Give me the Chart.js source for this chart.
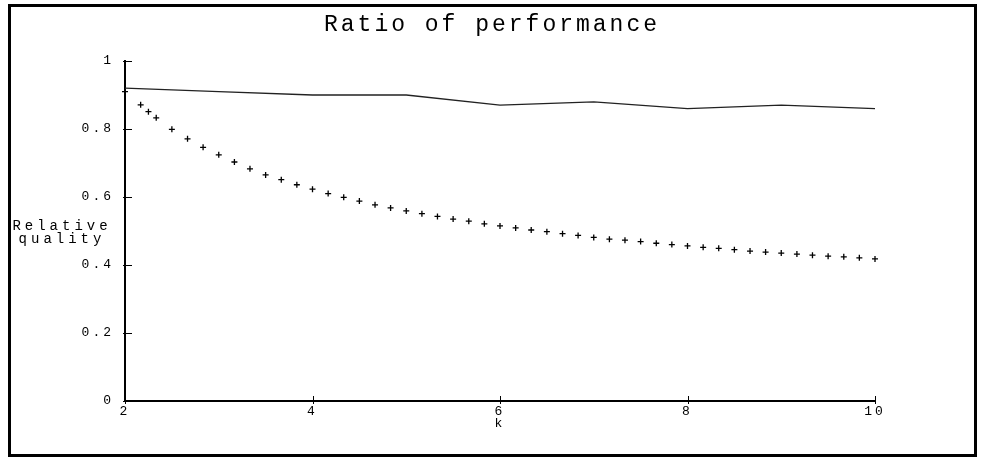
<!DOCTYPE html>
<html>
<head>
<meta charset="utf-8">
<script src="https://cdn.jsdelivr.net/npm/chart.js@4.4.1/dist/chart.umd.min.js"></script>
<style>
  body { margin:0; background:#fff; }
  #wrap { width:984px; height:459px; }
</style>
</head>
<body>
<div id="wrap"><canvas id="perf_chart" width="984" height="459"></canvas></div>
<script>
// solid curve: measured ratio for k = 2..10
let kValues = [2, 3, 4, 5, 6, 7, 8, 9, 10];
let measured = [0.92, 0.91, 0.90, 0.90, 0.87, 0.88, 0.86, 0.87, 0.86];

// "+" points: bound curve
let boundK = [2, 2.167, 2.25, 2.333, 2.5, 2.667, 2.833, 3, 3.167, 3.333, 3.5, 3.667, 3.833,
    4, 4.167, 4.333, 4.5, 4.667, 4.833, 5, 5.167, 5.333, 5.5, 5.667, 5.833,
    6, 6.167, 6.333, 6.5, 6.667, 6.833, 7, 7.167, 7.333, 7.5, 7.667, 7.833,
    8, 8.167, 8.333, 8.5, 8.667, 8.833, 9, 9.167, 9.333, 9.5, 9.667, 9.833, 10];
let boundVal = [0.91, 0.871, 0.851, 0.833, 0.799, 0.771, 0.746, 0.724, 0.703, 0.683, 0.665, 0.651, 0.636,
    0.623, 0.610, 0.599, 0.588, 0.577, 0.568, 0.559, 0.551, 0.543, 0.535, 0.529, 0.521,
    0.515, 0.509, 0.503, 0.498, 0.492, 0.487, 0.481, 0.476, 0.473, 0.469, 0.464, 0.460,
    0.456, 0.452, 0.449, 0.445, 0.441, 0.438, 0.435, 0.432, 0.429, 0.426, 0.424, 0.421, 0.418];

let xTicks = [2, 4, 6, 8, 10];
let yTicks = [0, 0.2, 0.4, 0.6, 0.8, 1];

const MONO = "'Liberation Mono', 'DejaVu Sans Mono', monospace";
const SPACING = "3px";

function pairs(xs, ys) {
    let out = new Array();
    for (let i = 0; i < xs.length; i++) {
        out.push({x: xs[i], y: ys[i]});
    }
    return out;
}

// wide letter spacing like the original plot
const spacingPlugin = {
    id: "spacing",
    beforeLayout(chart) { chart.ctx.letterSpacing = SPACING; },
    beforeDraw(chart) { chart.ctx.letterSpacing = SPACING; }
};

// ticks crossing the axes, frame, and the horizontal y label
const decorPlugin = {
    id: "decor",
    afterDraw(chart) {
        const ctx = chart.ctx;
        const area = chart.chartArea;
        const xs = chart.scales.x, ys = chart.scales.y;
        ctx.save();
        ctx.strokeStyle = "#000";
        ctx.lineWidth = 1;
        ctx.beginPath();
        yTicks.forEach(function(v) {
            let py = Math.round(ys.getPixelForValue(v)) + 0.5;
            ctx.moveTo(area.left - 2, py);
            ctx.lineTo(area.left + 7, py);
        });
        xTicks.forEach(function(v) {
            let px = Math.round(xs.getPixelForValue(v)) + 0.5;
            ctx.moveTo(px, area.bottom - 5);
            ctx.lineTo(px, area.bottom + 3);
        });
        ctx.stroke();

        ctx.lineWidth = 3;
        ctx.strokeRect(9.5, 5.5, 966, 450);

        ctx.fillStyle = "#000";
        ctx.font = "14px " + MONO;
        ctx.letterSpacing = "4px";
        ctx.textAlign = "center";
        ctx.textBaseline = "middle";
        ctx.fillText("Relative", 62, 226);
        ctx.fillText("quality", 62, 239);
        ctx.restore();
    }
};

let perfChart = new Chart(document.getElementById("perf_chart"), {
    type: "scatter",
    plugins: [spacingPlugin, decorPlugin],
    data: {
        datasets: [{
            label: "measured",
            data: pairs(kValues, measured),
            showLine: true,
            borderColor: "#222",
            borderWidth: 1.3,
            pointRadius: 0,
            tension: 0
        }, {
            label: "bound",
            data: pairs(boundK, boundVal),
            showLine: false,
            pointStyle: "cross",
            pointRadius: 3,
            borderColor: "#000",
            borderWidth: 1.3,
            clip: false
        }]
    },
    options: {
        responsive: false,
        animation: false,
        layout: { padding: 0 },
        plugins: {
            legend: { display: false },
            tooltip: { enabled: false },
            title: {
                display: true,
                text: "Ratio of performance",
                color: "#000",
                font: { family: MONO, size: 23, weight: "normal" },
                padding: { top: 11, bottom: 22.4 }
            }
        },
        scales: {
            x: {
                type: "linear",
                min: 2,
                max: 10,
                afterFit: function(scale) { scale.height = 58; },
                afterBuildTicks: function(scale) {
                    scale.ticks = xTicks.map(function(v) { return {value: v}; });
                },
                grid: { display: true, drawOnChartArea: false, drawTicks: false },
                border: { display: true, color: "#000", width: 2 },
                ticks: {
                    color: "#000",
                    padding: 3,
                    maxRotation: 0,
                    font: { family: MONO, size: 13 },
                    callback: function(v) { return String(v); }
                },
                title: {
                    display: true,
                    text: "k",
                    color: "#000",
                    font: { family: MONO, size: 13 },
                    padding: { top: 0, bottom: 28 }
                }
            },
            y: {
                type: "linear",
                min: 0,
                max: 1,
                afterFit: function(scale) { scale.width = 125; },
                afterBuildTicks: function(scale) {
                    scale.ticks = yTicks.map(function(v) { return {value: v}; });
                },
                grid: { display: true, drawOnChartArea: false, drawTicks: false },
                border: { display: true, color: "#000", width: 2 },
                ticks: {
                    color: "#000",
                    padding: 11,
                    font: { family: MONO, size: 13 },
                    callback: function(v) { return String(v); }
                }
            },
            // empty right margin so the title centres on the whole page
            yRight: {
                type: "linear",
                position: "right",
                display: true,
                afterFit: function(scale) { scale.width = 109; },
                grid: { display: false },
                border: { display: false },
                ticks: { display: false }
            }
        }
    }
});
</script>
</body>
</html>
